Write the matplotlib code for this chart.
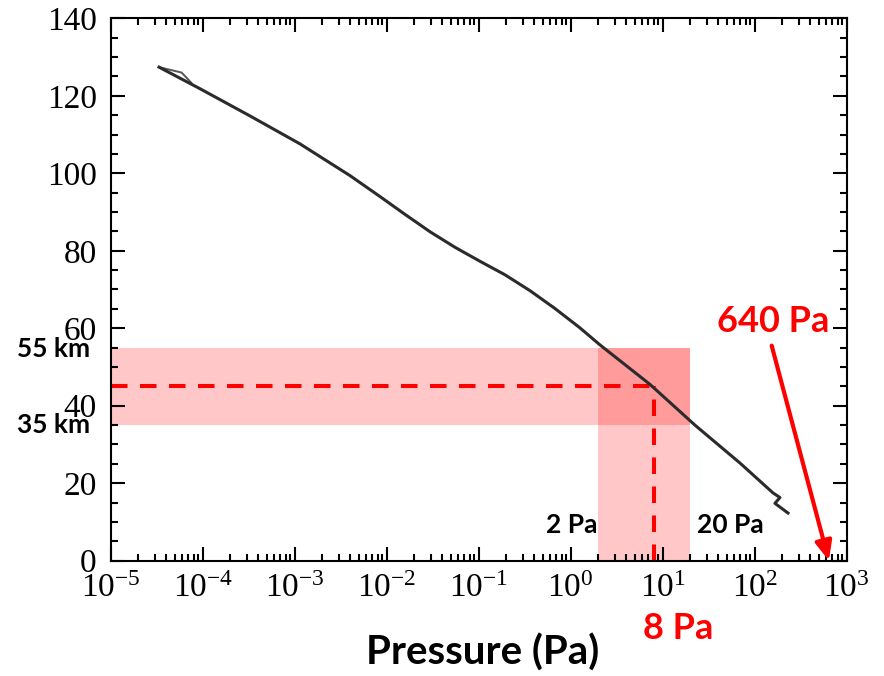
import numpy as np
import matplotlib.pyplot as plt
from matplotlib.ticker import LogLocator, MultipleLocator, NullFormatter

plt.rcParams['font.family'] = ['Liberation Serif', 'DejaVu Serif']
plt.rcParams['mathtext.fontset'] = 'custom'
plt.rcParams['mathtext.rm'] = 'Liberation Serif'
plt.rcParams['mathtext.it'] = 'Liberation Serif:italic'
plt.rcParams['mathtext.bf'] = 'Liberation Serif:bold'

# pressure / altitude profile
pressure = [3.35e-5, 9.4e-5, 3.27e-4, 1.14e-3, 3.99e-3, 8.45e-3, 1.58e-2, 2.96e-2,
            5.52e-2, 0.103, 0.193, 0.361, 0.674, 1.26, 2.08, 7.28, 22.4, 69.2,
            158, 188, 166, 230]
altitude = [127.4, 121.8, 114.8, 107.6, 99.4, 94.0, 89.4, 84.9,
            80.9, 77.3, 73.8, 69.7, 65.1, 60.1, 55.7, 45.5, 35.0, 25.2,
            17.5, 16.3, 14.8, 12.3]
# second trace that splits off near the top
pressure_top = [3.35e-5, 5.9e-5, 7.5e-5]
altitude_top = [127.4, 126.0, 123.4]

band_alt = [35, 55]       # km
band_p = [2, 20]          # Pa
mark_alt = 45
mark_p = 8
surface_p = 640

bold = dict(family=['Lato', 'DejaVu Sans'], fontweight='bold')

fig = plt.figure(figsize=(8.84, 6.76), dpi=100)
ax = fig.add_axes([0.1252, 0.1706, 0.8326, 0.8023])

ax.fill_between([1e-5, band_p[1]], band_alt[0], band_alt[1], color='red', alpha=0.22, lw=0)
ax.fill_between(band_p, 0, band_alt[1], color='red', alpha=0.22, lw=0)

ax.plot([1e-5, mark_p], [mark_alt, mark_alt], color='red', lw=2.9, dashes=(4.1, 3.1))
ax.plot([mark_p, mark_p], [0, mark_alt], color='red', lw=2.9, dashes=(4.1, 3.1))

ax.plot(pressure_top, altitude_top, color='#555555', lw=1.4)
ax.plot(pressure, altitude, color='#2b2b2b', lw=2.2)

ax.annotate('', xy=(surface_p, 0), xytext=(153, 55.5),
            arrowprops=dict(arrowstyle='-|>,head_length=0.46,head_width=0.2',
                            color='red', lw=3, mutation_scale=25,
                            shrinkA=0, shrinkB=0))

ax.set_xscale('log')
ax.set_xlim(1e-5, 1e3)
ax.set_ylim(0, 140)
ax.xaxis.set_major_locator(LogLocator(base=10, numticks=20))
ax.xaxis.set_minor_locator(LogLocator(base=10, subs=np.arange(2, 10), numticks=20))
ax.xaxis.set_minor_formatter(NullFormatter())
ax.yaxis.set_major_locator(MultipleLocator(20))
ax.yaxis.set_minor_locator(MultipleLocator(5))
ax.tick_params(which='both', direction='in', top=True, right=True, width=1.5)
ax.tick_params(which='major', length=10, labelsize=24)
ax.tick_params(which='minor', length=5)
ax.tick_params(axis='x', pad=9)
ax.tick_params(axis='y', pad=10)
for s in ax.spines.values():
    s.set_linewidth(1.5)

ytr = ax.get_yaxis_transform()
ax.text(-0.078, 52.5, '55 km', ha='center', va='baseline', fontsize=19, transform=ytr, **bold)
ax.text(-0.078, 33.0, '35 km', ha='center', va='baseline', fontsize=19, transform=ytr, **bold)
ax.text(1.03, 7.2, '2 Pa', ha='center', va='baseline', fontsize=19, **bold)
ax.text(54.6, 7.2, '20 Pa', ha='center', va='baseline', fontsize=19, **bold)
ax.text(14.7, -20.2, '8 Pa', ha='center', va='baseline', fontsize=26, color='red',
        clip_on=False, **bold)
ax.text(158, 59.1, '640 Pa', ha='center', va='baseline', fontsize=26, color='red', **bold)
ax.text(0.505, -0.192, 'Pressure (Pa)', ha='center', va='baseline', fontsize=29,
        transform=ax.transAxes, **bold)

fig.savefig('out.png', dpi=100)
